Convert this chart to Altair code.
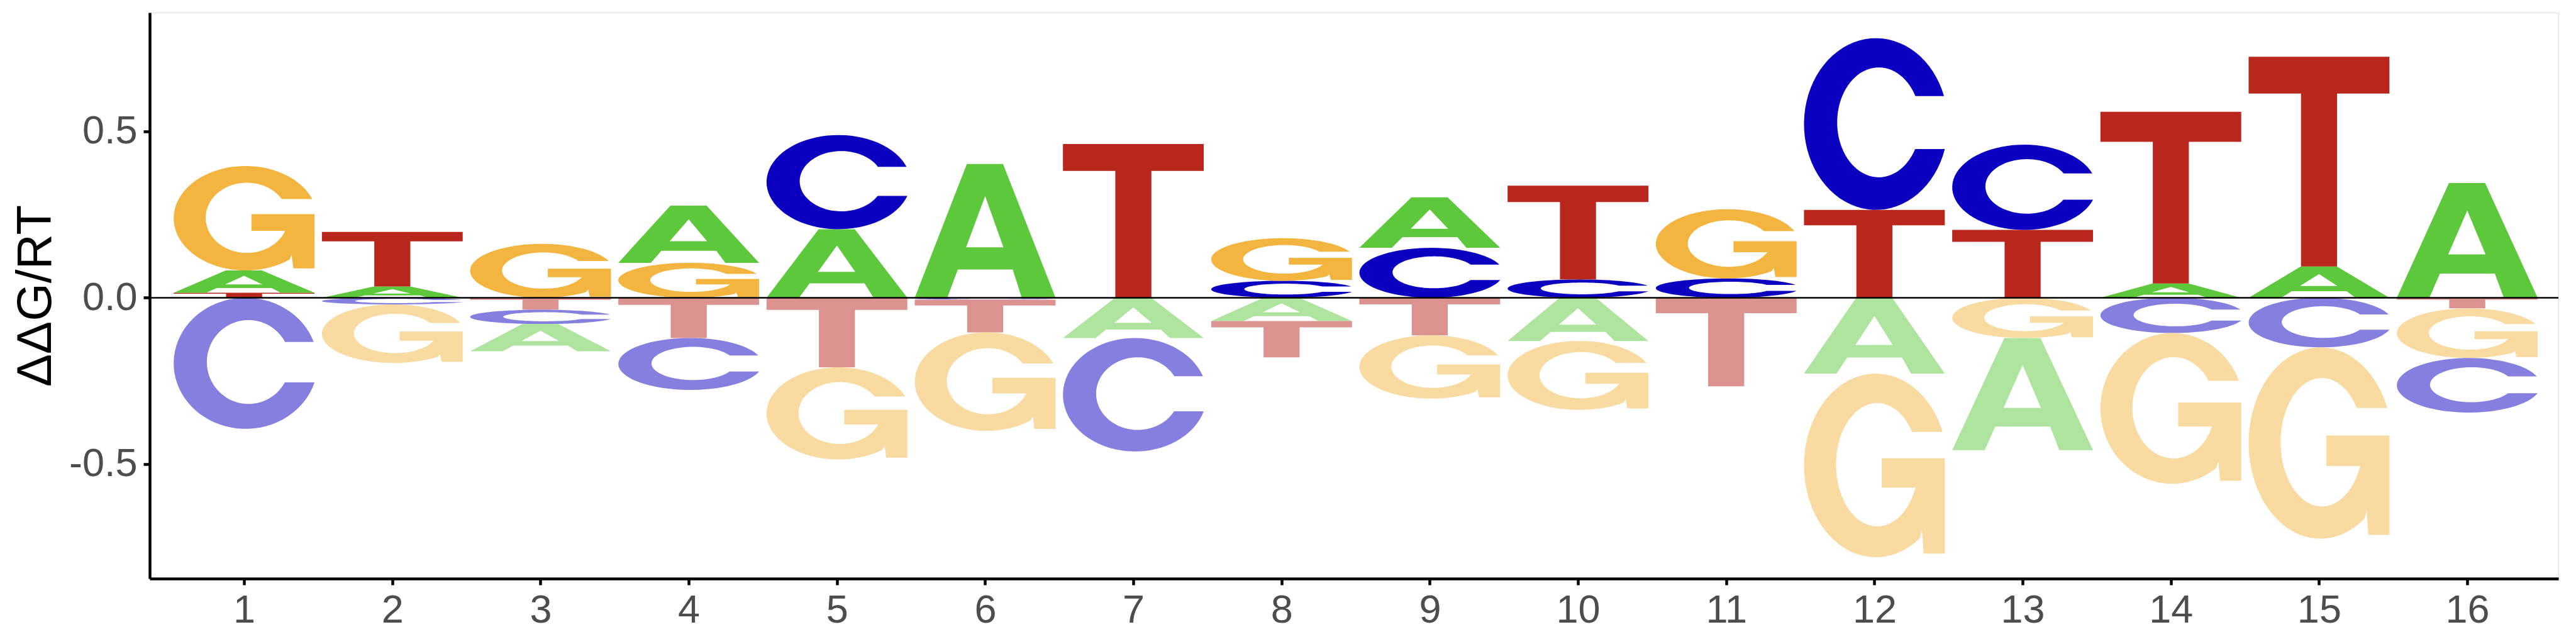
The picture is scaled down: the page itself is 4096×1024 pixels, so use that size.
import math
import numpy as np
import pandas as pd
import altair as alt

# ---------------- data ----------------
positions = list(range(1, 17))
val_A = [0.067, 0.034, -0.082, 0.172, 0.206, 0.402, -0.121, -0.070,
         0.152, -0.130, 0.0, -0.228, -0.337, 0.043, 0.094, 0.345]
val_C = [-0.394, -0.020, -0.043, -0.156, 0.283, -0.006, -0.341, 0.051,
         0.150, 0.055, 0.058, 0.516, 0.256, -0.106, -0.149, -0.164]
val_G = [0.314, -0.176, 0.162, 0.105, -0.277, -0.296, 0.0, 0.128,
         -0.190, -0.207, 0.208, -0.552, -0.121, -0.453, -0.575, -0.149]
val_T = [0.015, 0.164, -0.036, -0.121, -0.209, -0.098, 0.462, -0.109,
         -0.113, 0.282, -0.266, 0.264, 0.204, 0.516, 0.630, -0.032]
letters = ["A", "C", "G", "T"]
y_ticks = [-0.5, 0.0, 0.5]

values = {"A": val_A, "C": val_C, "G": val_G, "T": val_T}

# ---------------- styles ----------------
COL_POS = {"A": "#5EC83C", "C": "#0B00C0", "G": "#F3B540", "T": "#B8261C"}


def pale(hexcol, a=0.5):
    r, g, b = (int(hexcol[i:i + 2], 16) for i in (1, 3, 5))
    r, g, b = (round(c * a + 255 * (1 - a)) for c in (r, g, b))
    return "#%02X%02X%02X" % (r, g, b)


COL_NEG = {k: pale(v) for k, v in COL_POS.items()}
LETTER_W = 0.95


# ---------------- glyph outlines in a unit box ----------------
def arc(cx, cy, rx, ry, a0, a1, n=70):
    t = np.radians(np.linspace(a0, a1, n))
    return list(zip(cx + rx * np.cos(t), cy + ry * np.sin(t)))


def glyph_C():
    ocx, ocy, orx, ory = 0.51, 0.5, 0.51, 0.5
    icx, icy, irx, iry = 0.53, 0.51, 0.295, 0.32
    t_top = math.degrees(math.asin((0.663 - ocy) / ory))
    t_bot = 360 + math.degrees(math.asin((0.354 - ocy) / ory))
    i_top = math.degrees(math.asin((0.663 - icy) / iry))
    i_bot = 360 + math.degrees(math.asin((0.354 - icy) / iry))
    pts = arc(ocx, ocy, orx, ory, t_top, t_bot) + arc(icx, icy, irx, iry, i_bot, i_top)
    mx = max(p[0] for p in pts)
    return [[(x / mx, y) for x, y in pts]], []


def glyph_G():
    ocx, ocy, orx, ory = 0.51, 0.5, 0.51, 0.5
    icx, icy, irx, iry = 0.52, 0.504, 0.293, 0.336
    t_top = math.degrees(math.asin((0.683 - ocy) / ory))
    outer = arc(ocx, ocy, orx, ory, t_top, 308)
    spur = [(0.838, 0.15), (0.85, 0.02), (1.0, 0.02), (1.0, 0.539),
            (0.552, 0.539), (0.552, 0.38)]
    i_bar = 360 + math.degrees(math.asin((0.38 - icy) / iry))
    i_top = math.degrees(math.asin((0.683 - icy) / iry))
    inner = arc(icx, icy, irx, iry, i_bar, i_top)
    pts = outer + spur + inner
    mx = max(p[0] for p in pts)
    return [[(x / mx, y) for x, y in pts]], []


def glyph_A():
    outer = [(0, 0), (0.37, 1), (0.627, 1), (1, 0), (0.76, 0),
             (0.696, 0.211), (0.306, 0.211), (0.231, 0)]
    hole = [(0.365, 0.377), (0.5, 0.76), (0.63, 0.377)]
    return [outer], [hole]


def glyph_T():
    return [[(0, 1), (1, 1), (1, 0.825), (0.628, 0.825), (0.628, 0),
             (0.372, 0), (0.372, 0.825), (0, 0.825)]], []


GLYPHS = {"A": glyph_A(), "C": glyph_C(), "G": glyph_G(), "T": glyph_T()}

# ---------------- build polygon tables from the values ----------------
rows, hole_rows = [], []
gid = 0


def add_letter(L, xc, y0, y1, color):
    global gid
    polys, holes = GLYPHS[L]
    for target, plist, col in ((rows, polys, color), (hole_rows, holes, "#FFFFFF")):
        for poly in plist:
            gid += 1
            for k, (u, w) in enumerate(poly + [poly[0]]):
                target.append({"gid": "g%d" % gid, "idx": k,
                               "x": xc + (u - 0.5) * LETTER_W,
                               "y": y0 + w * (y1 - y0), "col": col})


for i, p in enumerate(positions):
    items = [(L, values[L][i]) for L in letters if values[L][i] != 0]
    base = 0.0
    for L, v in sorted([t for t in items if t[1] > 0], key=lambda t: t[1]):
        add_letter(L, p, base, base + v, COL_POS[L])
        base += v
    top = 0.0
    for L, v in sorted([t for t in items if t[1] < 0], key=lambda t: -t[1]):
        add_letter(L, p, top + v, top, COL_NEG[L])
        top += v

df = pd.DataFrame(rows)
df_h = pd.DataFrame(hole_rows)

xscale = alt.Scale(domain=[0.363, 16.615], nice=False, zero=False)
yscale = alt.Scale(domain=[-0.844, 0.857], nice=False, zero=False)

xaxis = alt.Axis(values=positions, format="d", title=None, grid=False,
                 labelFontSize=63, labelColor="#4D4D4D", labelFont="Liberation Sans",
                 tickSize=10, tickWidth=4.5, tickColor="#000000",
                 domainColor="#000000", domainWidth=4.5, labelPadding=9,
                 labelFlush=False)
yaxis = alt.Axis(values=y_ticks, title="ΔΔG/RT", grid=False,
                 labelExpr="datum.value < 0 ? '-' + format(-datum.value, '.1f') : format(datum.value, '.1f')",
                 labelFontSize=63, labelColor="#4D4D4D", labelFont="Liberation Sans",
                 tickSize=10, tickWidth=4.5, tickColor="#000000",
                 domainColor="#000000", domainWidth=4.5, labelPadding=10,
                 titleFont="Liberation Sans", titleFontSize=78, titleFontWeight="normal",
                 titleColor="#000000", titleAngle=270, titleX=-181, titleY=450,
                 titleAlign="center", titleBaseline="middle")

letters_layer = alt.Chart(df).mark_line(filled=True, strokeWidth=0).encode(
    x=alt.X("x:Q", scale=xscale, axis=xaxis),
    y=alt.Y("y:Q", scale=yscale, axis=yaxis),
    detail="gid:N",
    order=alt.Order("idx:Q"),
    color=alt.Color("col:N", scale=None),
)

holes_layer = alt.Chart(df_h).mark_line(filled=True, strokeWidth=0).encode(
    x=alt.X("x:Q", scale=xscale),
    y=alt.Y("y:Q", scale=yscale),
    detail="gid:N",
    order=alt.Order("idx:Q"),
    color=alt.Color("col:N", scale=None),
)

zero_rule = alt.Chart(pd.DataFrame({"y": [0.0]})).mark_rule(
    color="#000000", strokeWidth=2.5).encode(y=alt.Y("y:Q", scale=yscale))

chart = alt.layer(letters_layer, holes_layer, zero_rule).properties(
    width=3830, height=900,
    padding={"left": 230, "top": 12, "right": 20, "bottom": 90},
    autosize=alt.AutoSizeParams(type="none"),
).configure_view(strokeWidth=0, stroke="transparent").configure(background="#FFFFFF")

chart.save("out.html", embed_options={"renderer": "svg", "actions": False})
